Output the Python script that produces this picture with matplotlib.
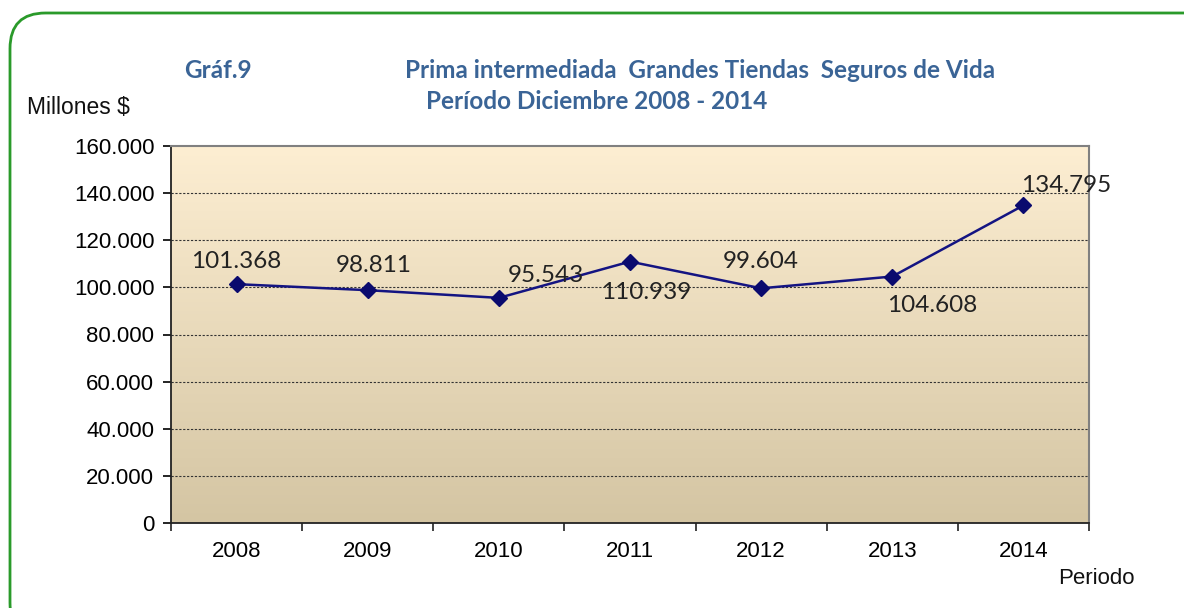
import numpy as np
import matplotlib
matplotlib.use('Agg')
import matplotlib.pyplot as plt
from matplotlib.patches import FancyBboxPatch
from matplotlib.ticker import FuncFormatter, FixedLocator

years = ['2008', '2009', '2010', '2011', '2012', '2013', '2014']
values = [101368, 98811, 95543, 110939, 99604, 104608, 134795]
labels = ['101.368', '98.811', '95.543', '110.939', '99.604', '104.608', '134.795']
# label offsets in points (dx, dy)
offsets = [(0, 16), (4, 18), (34, 16), (12, -22), (0, 19), (29, -21), (31, 14)]

fig = plt.figure(figsize=(11.84, 6.08), dpi=100)

# green rounded frame
frame = FancyBboxPatch((10 / 1184, -0.05), 1.2, 1.05 - 13 / 608, transform=fig.transFigure,
                       boxstyle='round,pad=0,rounding_size=0.03', fc='white',
                       ec='#2a9a2a', lw=2, mutation_aspect=1184 / 608, zorder=-5)
fig.patches.append(frame)

ax = fig.add_axes([171 / 1184, 85 / 608, 918 / 1184, 377 / 608])
ax.set_xlim(-0.5, 6.5)
ax.set_ylim(0, 160000)

# gradient background
grad = np.linspace(0, 1, 256).reshape(-1, 1)
top = np.array([253, 238, 210]) / 255
bot = np.array([212, 197, 163]) / 255
img = top * (1 - grad[..., None]) + bot * grad[..., None]
img = img.reshape(256, 1, 3)
ax.imshow(img, extent=[-0.5, 6.5, 0, 160000], aspect='auto', zorder=0)

for y in range(20000, 160000, 20000):
    ax.axhline(y, color='#333333', lw=0.8, ls=(0, (2, 1.5)), zorder=1)

x = np.arange(len(years))
ax.plot(x, values, color='#141482', lw=1.8, marker='D', ms=8, mfc='#0a0a6e',
        mec='#0a0a6e', zorder=3)

for i, (v, lab) in enumerate(zip(values, labels)):
    dx, dy = offsets[i]
    ax.annotate(lab, (x[i], v), xytext=(dx, dy), textcoords='offset points',
                ha='center', va='center', fontsize=17.5, family='Lato', color='#222222')

ax.set_yticks(range(0, 160001, 20000))
ax.yaxis.set_major_formatter(FuncFormatter(lambda v, p: f'{int(v):,}'.replace(',', '.')))
ax.set_xticks(x)
ax.set_xticklabels(years)
ax.xaxis.set_minor_locator(FixedLocator(np.arange(-0.5, 7, 1)))
ax.tick_params(axis='x', which='major', length=0, pad=13, labelsize=16)
ax.tick_params(axis='x', which='minor', length=6, width=1.2, color='#222222')
ax.tick_params(axis='y', length=6, width=1.2, labelsize=16, pad=6)
for lab in ax.get_xticklabels() + ax.get_yticklabels():
    lab.set_family('Liberation Sans')

ax.spines['left'].set_color('#222222')
ax.spines['bottom'].set_color('#222222')
ax.spines['left'].set_linewidth(1.3)
ax.spines['bottom'].set_linewidth(1.3)
ax.spines['top'].set_color('#808080')
ax.spines['right'].set_color('#808080')
ax.spines['top'].set_linewidth(1.5)
ax.spines['right'].set_linewidth(1.5)

tcol = '#3a6496'
fig.text(218 / 1184, 1 - 70 / 608, 'Gráf.9', ha='center', va='center', fontsize=17.5,
         fontweight='bold', family='Lato', color=tcol)
fig.text(700 / 1184, 1 - 70 / 608, 'Prima intermediada  Grandes Tiendas  Seguros de Vida',
         ha='center', va='center', fontsize=17.5, fontweight='bold', family='Lato', color=tcol)
fig.text(597 / 1184, 1 - 101 / 608, 'Período Diciembre 2008 - 2014', ha='center',
         va='center', fontsize=17.5, fontweight='bold', family='Lato', color=tcol)
fig.text(27 / 1184, 1 - 108 / 608, 'Millones $', ha='left', va='center', fontsize=16.5,
         family='Liberation Sans', color='#111111')
fig.text(1135 / 1184, 1 - 578 / 608, 'Periodo', ha='right', va='center', fontsize=16,
         family='Liberation Sans', color='#111111')

fig.savefig('out.png', dpi=100)
